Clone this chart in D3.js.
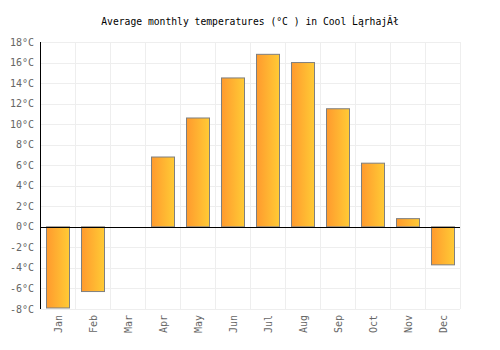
<!DOCTYPE html>
<html>
<head>
<meta charset="utf-8">
<script src="https://cdn.jsdelivr.net/npm/d3@7"></script>
<style>
  body { margin: 0; background: #fff; }
  svg { display: block; }
</style>
</head>
<body>
<script>
// chart data
const months = ['Jan','Feb','Mar','Apr','May','Jun','Jul','Aug','Sep','Oct','Nov','Dec'];
const temps = [-7.9, -6.3, 0, 6.8, 10.6, 14.5, 16.8, 16.0, 11.5, 6.2, 0.8, -3.7];
const yTicks = [-8,-6,-4,-2,0,2,4,6,8,10,12,14,16,18];
const title = 'Average monthly temperatures (°C ) in Cool ĹąrhajĂł';

const width = 500, height = 350;
const margin = {top:42, bottom:41, left:40, right:40};
const chartW = width - margin.left - margin.right;
const chartH = height - margin.top - margin.bottom;

const svg = d3.select('body').append('svg')
    .attr('width', width)
    .attr('height', height);

const defs = svg.append('defs');
const grad = defs.append('linearGradient').attr('id','barGrad')
    .attr('x1','0%').attr('x2','100%').attr('y1','0%').attr('y2','0%');
grad.append('stop').attr('offset','0%').attr('stop-color','#ff9a2e');
grad.append('stop').attr('offset','100%').attr('stop-color','#ffcb35');

const xScale = d3.scaleBand()
    .domain(months)
    .range([0, chartW])
    .paddingInner(0.33)
    .paddingOuter(0.165);
// band edges for the grid
const bandStep = chartW / months.length;

const yScale = d3.scaleLinear()
    .domain([-8, 18])
    .range([chartH, 0]);

const g = svg.append('g')
    .attr('transform', `translate(${margin.left},${margin.top})`);

// grid
g.append('g').selectAll('line.h')
    .data(yTicks).join('line')
    .attr('x1', 0).attr('x2', chartW)
    .attr('y1', d => Math.round(yScale(d)) + 0.5)
    .attr('y2', d => Math.round(yScale(d)) + 0.5)
    .attr('stroke', '#eeeeee');
g.append('g').selectAll('line.v')
    .data(d3.range(months.length + 1)).join('line')
    .attr('x1', d => d * bandStep + 0.5).attr('x2', d => d * bandStep + 0.5)
    .attr('y1', 0).attr('y2', chartH)
    .attr('stroke', '#eeeeee');

// bars
g.append('g').selectAll('rect')
    .data(temps).join('rect')
    .attr('x', (d, i) => Math.round(xScale(months[i])) + 0.5)
    .attr('width', Math.round(xScale.bandwidth()))
    .attr('y', d => yScale(Math.max(0, d)))
    .attr('height', d => Math.abs(yScale(d) - yScale(0)))
    .attr('fill', 'url(#barGrad)')
    .attr('stroke', '#7f7f7f')
    .attr('stroke-width', 1);

// zero line and y axis line
g.append('line')
    .attr('x1', 0).attr('x2', chartW)
    .attr('y1', Math.round(yScale(0)) + 0.5).attr('y2', Math.round(yScale(0)) + 0.5)
    .attr('stroke', '#000');
g.append('line')
    .attr('x1', 0.5).attr('x2', 0.5)
    .attr('y1', 0).attr('y2', chartH)
    .attr('stroke', '#000');

// y tick labels
g.append('g').selectAll('text')
    .data(yTicks).join('text')
    .attr('x', -6)
    .attr('y', d => yScale(d))
    .attr('dy', '0.35em')
    .attr('text-anchor', 'end')
    .attr('font-family', 'DejaVu Sans Mono, monospace')
    .attr('font-size', 10)
    .attr('fill', '#666')
    .text(d => d + '°C');

// x labels, rotated
g.append('g').selectAll('text')
    .data(months).join('text')
    .attr('transform', d => `translate(${xScale(d) + xScale.bandwidth() / 2 + 4},${chartH + 6}) rotate(-90)`)
    .attr('text-anchor', 'end')
    .attr('font-family', 'DejaVu Sans Mono, monospace')
    .attr('font-size', 10)
    .attr('fill', '#666')
    .text(d => d);

// title
svg.append('text')
    .attr('x', width / 2)
    .attr('y', 25)
    .attr('text-anchor', 'middle')
    .attr('font-family', 'DejaVu Sans Mono, monospace')
    .attr('font-size', 9.7)
    .attr('fill', '#000')
    .text(title);
</script>
</body>
</html>
